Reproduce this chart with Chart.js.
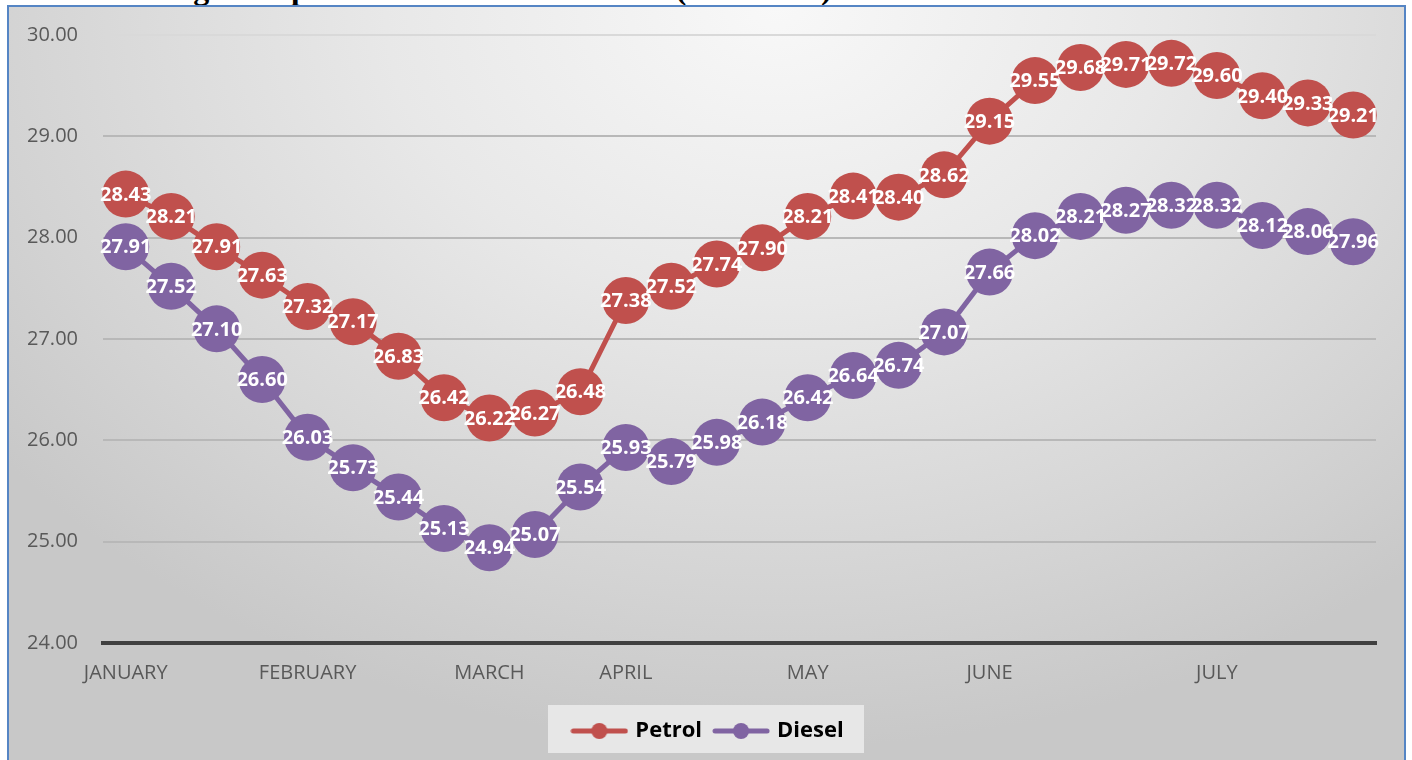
<!DOCTYPE html>
<html>
<head>
<meta charset="utf-8">
<title>Average fuel prices</title>
<script src="https://cdn.jsdelivr.net/npm/chart.js@4.4.1/dist/chart.umd.min.js"></script>
<style>
  html, body { margin: 0; padding: 0; background: #fff; width: 1412px; height: 760px; overflow: hidden; }
  .title {
    position: absolute; left: 0; top: -30px; line-height: 30px;
    font: bold 32px "Liberation Serif", "DejaVu Serif", serif; color: #000; white-space: nowrap;
  }
  .frame {
    position: absolute; left: 7px; top: 5px; width: 1395px; height: 780px;
    border: 2px solid #5585c4;
    background: radial-gradient(ellipse 70% 95% at 55% 0%, #f8f8f8 0%, #e8e8e8 40%, #d3d3d3 80%, #c8c8c8 100%);
  }
  .frame canvas { position: absolute; left: 0; top: 0; }
</style>
</head>
<body>
<div class="title">Chart 1 Average fuel prices in H1 2016 in the CR (CZK/litre)</div>
<div class="frame">
  <canvas id="fuelChart" width="1395" height="753"></canvas>
</div>
<script>
// categories: one per week, month name only where the axis shows it
const weekLabels = ['JANUARY', '', '', '', 'FEBRUARY', '', '', '', 'MARCH', '', '', 'APRIL', '', '', '',
    'MAY', '', '', '', 'JUNE', '', '', '', '', 'JULY', '', '', ''];

const petrolPrices = [28.43, 28.21, 27.91, 27.63, 27.32, 27.17, 26.83, 26.42, 26.22, 26.27, 26.48, 27.38, 27.52, 27.74,
    27.90, 28.21, 28.41, 28.40, 28.62, 29.15, 29.55, 29.68, 29.71, 29.72, 29.60, 29.40, 29.33, 29.21];

const dieselPrices = [27.91, 27.52, 27.10, 26.60, 26.03, 25.73, 25.44, 25.13, 24.94, 25.07, 25.54, 25.93, 25.79, 25.98,
    26.18, 26.42, 26.64, 26.74, 27.07, 27.66, 28.02, 28.21, 28.27, 28.32, 28.32, 28.12, 28.06, 27.96];

const yTicks = [24, 25, 26, 27, 28, 29, 30];

const PETROL = '#c0504d';
const DIESEL = '#8064a2';
const FONT = '"Open Sans", "DejaVu Sans", sans-serif';

// legend marker: line with a dot in the middle
function legendMarker(color) {
    const c = document.createElement('canvas');
    c.width = 58; c.height = 20;
    const g = c.getContext('2d');
    g.strokeStyle = color; g.lineWidth = 5; g.lineCap = 'round';
    g.beginPath(); g.moveTo(3, 10); g.lineTo(55, 10); g.stroke();
    g.fillStyle = color;
    g.beginPath(); g.arc(29, 10, 8, 0, Math.PI * 2); g.fill();
    return c;
}

// white value labels centred in each point
const valueLabels = {
    id: 'valueLabels',
    afterDatasetsDraw(chart) {
        const ctx = chart.ctx;
        ctx.save();
        ctx.font = 'bold 20px ' + FONT;
        ctx.fillStyle = '#ffffff';
        ctx.textAlign = 'center';
        ctx.textBaseline = 'middle';
        chart.data.datasets.forEach((ds, i) => {
            chart.getDatasetMeta(i).data.forEach((pt, j) => {
                ctx.fillText(ds.data[j].toFixed(2), pt.x, pt.y + 1);
            });
        });
        ctx.restore();
    }
};

// legend sits a little right of the canvas centre, on a light box
const legendBox = {
    id: 'legendBox',
    afterLayout(chart) {
        if (chart.legend) chart.legend.left = 33;
    },
    beforeDraw(chart) {
        const lg = chart.legend;
        if (!lg) return;
        const ctx = chart.ctx;
        const w = 316;
        const cx = (lg.left + lg.right) / 2 - 3;
        ctx.save();
        ctx.fillStyle = '#e7e7e7';
        ctx.fillRect(cx - w / 2, lg.top - 1, w, lg.bottom - lg.top + 2);
        ctx.restore();
    }
};

const ctx = document.getElementById('fuelChart').getContext('2d');
new Chart(ctx, {
    type: 'line',
    data: {
        labels: weekLabels,
        datasets: [
            {
                label: 'Petrol',
                data: petrolPrices,
                borderColor: PETROL,
                backgroundColor: PETROL,
                borderWidth: 5,
                pointRadius: 23.5,
                pointBorderWidth: 0,
                pointStyle: 'circle',
                tension: 0
            },
            {
                label: 'Diesel',
                data: dieselPrices,
                borderColor: DIESEL,
                backgroundColor: DIESEL,
                borderWidth: 5,
                pointRadius: 23.5,
                pointBorderWidth: 0,
                pointStyle: 'circle',
                tension: 0
            }
        ]
    },
    options: {
        responsive: false,
        animation: false,
        events: [],
        layout: { padding: { left: 18, right: 28, top: 28, bottom: 8 } },
        scales: {
            x: {
                offset: true,
                grid: { display: false, drawTicks: false },
                border: { display: true, color: '#404040', width: 4 },
                ticks: {
                    autoSkip: false, maxRotation: 0, minRotation: 0, padding: 18,
                    color: '#595959', font: { family: FONT, size: 20 }
                },
                afterFit(scale) { scale.height = 63; }
            },
            y: {
                min: yTicks[0],
                max: yTicks[yTicks.length - 1],
                afterBuildTicks(scale) { scale.ticks = yTicks.map(v => ({ value: v })); },
                grid: {
                    drawTicks: false,
                    lineWidth: 2,
                    color: c => c.tick && c.tick.value === 24 ? 'rgba(0,0,0,0)' :
                        (c.tick && c.tick.value === 30 ? '#d9d9d9' : '#b8b8b8')
                },
                border: { display: false },
                ticks: {
                    padding: 0,
                    crossAlign: 'far',
                    color: '#595959',
                    font: { family: FONT, size: 20 },
                    callback: v => Number(v).toFixed(2)
                },
                afterFit(scale) { scale.width = 76; }
            }
        },
        plugins: {
            legend: {
                position: 'bottom',
                labels: {
                    usePointStyle: true,
                    pointStyleWidth: 50,
                    padding: 14,
                    color: '#000',
                    font: { family: FONT, size: 22, weight: 'bold' },
                    generateLabels(chart) {
                        return chart.data.datasets.map((ds, i) => ({
                            text: ds.label,
                            pointStyle: legendMarker(ds.borderColor),
                            fillStyle: ds.borderColor,
                            strokeStyle: ds.borderColor,
                            lineWidth: 0,
                            fontColor: '#000',
                            hidden: false,
                            datasetIndex: i
                        }));
                    }
                }
            },
            tooltip: { enabled: false }
        }
    },
    plugins: [legendBox, valueLabels]
});
</script>
</body>
</html>
